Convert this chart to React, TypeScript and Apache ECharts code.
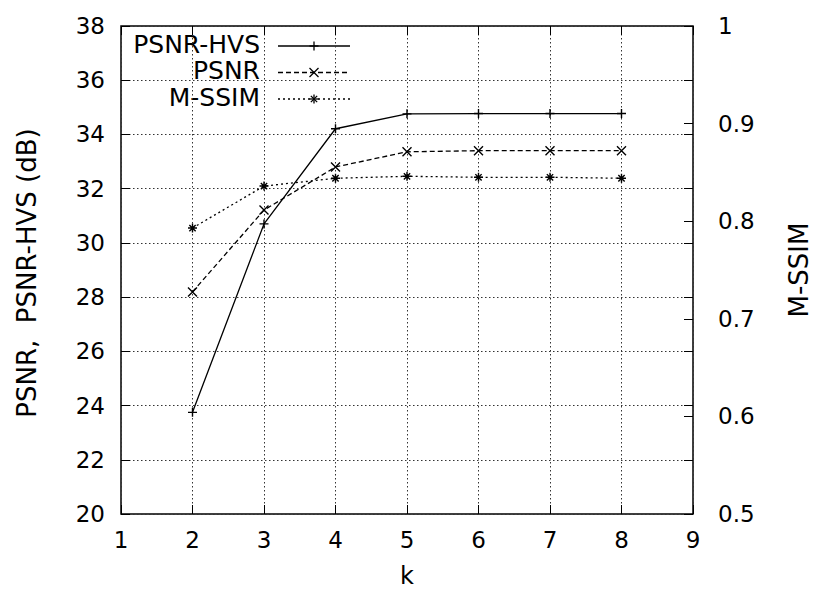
import React, { useEffect, useRef } from "react";
import * as echarts from "echarts";

const kValues = [2, 3, 4, 5, 6, 7, 8];
const psnrHvs = [23.75, 30.7, 34.21, 34.76, 34.77, 34.77, 34.77];
const psnr = [28.19, 31.21, 32.8, 33.36, 33.4, 33.4, 33.4];
const mssim = [0.793, 0.836, 0.844, 0.846, 0.845, 0.845, 0.844];

const seriesNames = ["PSNR-HVS", "PSNR", "M-SSIM"];
const xLabelName = "k";
const yLabelName = "PSNR,  PSNR-HVS (dB)";
const y2LabelName = "M-SSIM";

const FONT = "DejaVu Sans";

const SYM_PLUS = "path://M0,5L10,5M5,0L5,10";
const SYM_CROSS = "path://M0,0L10,10M10,0L0,10";
const SYM_STAR = "path://M0,5L10,5M5,0L5,10M1.5,1.5L8.5,8.5M8.5,1.5L1.5,8.5";

const dashes: (number[] | "solid")[] = ["solid", [5, 3], [2, 3]];
const symbols = [SYM_PLUS, SYM_CROSS, SYM_STAR];

function legendMarker(kind: number, cx: number, cy: number) {
  const r = 4.5;
  const st = { stroke: "#000", lineWidth: 1.3 };
  const segs: number[][] = [];
  if (kind === 0 || kind === 2) {
    segs.push([cx - r, cy, cx + r, cy], [cx, cy - r, cx, cy + r]);
  }
  if (kind === 1) {
    segs.push([cx - r, cy - r, cx + r, cy + r], [cx + r, cy - r, cx - r, cy + r]);
  }
  if (kind === 2) {
    const d = r * 0.7;
    segs.push([cx - d, cy - d, cx + d, cy + d], [cx + d, cy - d, cx - d, cy + d]);
  }
  return segs.map((s) => ({
    type: "line",
    shape: { x1: s[0], y1: s[1], x2: s[2], y2: s[3] },
    style: st,
    silent: true,
  }));
}

export default function App() {
  const ref = useRef<HTMLDivElement>(null);
  useEffect(() => {
    if (!ref.current) return;
    const chart = echarts.init(ref.current, null, { renderer: "svg" });
    const labelStyle = { fontFamily: FONT, fontSize: 23, color: "#000" };
    const dotted = { color: "#333", width: 1, type: [1.5, 2.5] };
    const tick = { show: true, inside: true, length: 9, lineStyle: { color: "#000", width: 1 } };

    const legendRows = [46, 72.5, 99];
    const legendGraphics: any[] = [];
    seriesNames.forEach((n, i) => {
      const y = legendRows[i];
      legendGraphics.push({
        type: "text",
        x: 260,
        y: y - 2,
        style: {
          text: n,
          fontFamily: FONT,
          fontSize: 25,
          lineHeight: 24,
          fill: "#000",
          align: "right",
          verticalAlign: "middle",
        },
      });
      legendGraphics.push({
        type: "line",
        shape: { x1: 278, y1: y, x2: 350, y2: y },
        style: {
          stroke: "#000",
          lineWidth: 1.3,
          lineDash: dashes[i] === "solid" ? null : dashes[i],
        },
      });
      legendGraphics.push(...legendMarker(i, 314, y));
    });

    const mkSeries = (name: string, vals: number[], idx: number, yIndex: number) => ({
      name,
      type: "line",
      xAxisIndex: 0,
      yAxisIndex: yIndex,
      data: kValues.map((k, j) => [k, vals[j]]),
      symbol: symbols[idx],
      symbolSize: 9,
      showSymbol: true,
      lineStyle: { color: "#000", width: 1.3, type: dashes[idx] },
      itemStyle: { color: "#000", borderColor: "#000", borderWidth: 1.4 },
      emphasis: { disabled: true },
      silent: true,
      z: 5,
    });

    chart.setOption({
      animation: false,
      backgroundColor: "#fff",
      grid: {
        left: 121,
        right: 121,
        top: 26,
        bottom: 76,
        show: true,
        borderColor: "#000",
        borderWidth: 1.5,
        backgroundColor: "transparent",
      },
      xAxis: [
        {
          type: "value",
          position: "bottom",
          min: 1,
          max: 9,
          interval: 1,
          axisLine: { show: false },
          axisTick: tick,
          axisLabel: { ...labelStyle, margin: 26, verticalAlign: "middle" },
          splitLine: { show: true, lineStyle: dotted },
        },
        {
          type: "value",
          position: "top",
          min: 1,
          max: 9,
          interval: 1,
          axisLine: { show: false },
          axisTick: tick,
          axisLabel: { show: false },
          splitLine: { show: false },
        },
      ],
      yAxis: [
        {
          type: "value",
          position: "left",
          min: 20,
          max: 38,
          interval: 2,
          axisLine: { show: false },
          axisTick: tick,
          axisLabel: { ...labelStyle, margin: 16 },
          splitLine: { show: true, lineStyle: dotted },
        },
        {
          type: "value",
          position: "right",
          min: 0.5,
          max: 1,
          interval: 0.1,
          axisLine: { show: false },
          axisTick: tick,
          axisLabel: {
            ...labelStyle,
            margin: 25,
            align: "left",
            formatter: (v: number) => (Math.abs(v - 1) < 1e-9 ? "1" : v.toFixed(1)),
          },
          splitLine: { show: false },
        },
        {
          type: "value",
          position: "right",
          min: 20,
          max: 38,
          interval: 2,
          axisLine: { show: false },
          axisTick: tick,
          axisLabel: { show: false },
          splitLine: { show: false },
        },
      ],
      series: [
        mkSeries(seriesNames[0], psnrHvs, 0, 0),
        mkSeries(seriesNames[1], psnr, 1, 0),
        mkSeries(seriesNames[2], mssim, 2, 1),
      ],
      graphic: [
        ...legendGraphics,
        {
          type: "text",
          x: 407,
          y: 576,
          style: {
            text: xLabelName,
            fontFamily: FONT,
            fontSize: 24,
            lineHeight: 24,
            fill: "#000",
            align: "center",
            verticalAlign: "middle",
          },
        },
        {
          type: "text",
          x: 27,
          y: 273,
          rotation: Math.PI / 2,
          style: {
            text: yLabelName,
            fontFamily: FONT,
            fontSize: 26,
            fill: "#000",
            align: "center",
            verticalAlign: "middle",
          },
        },
        {
          type: "text",
          x: 799,
          y: 270,
          rotation: Math.PI / 2,
          style: {
            text: y2LabelName,
            fontFamily: FONT,
            fontSize: 26,
            fill: "#000",
            align: "center",
            verticalAlign: "middle",
          },
        },
      ],
    });
    return () => chart.dispose();
  }, []);
  return (
    <div
      ref={ref}
      style={{ position: "absolute", left: 0, top: 0, width: 814, height: 590 }}
    />
  );
}
